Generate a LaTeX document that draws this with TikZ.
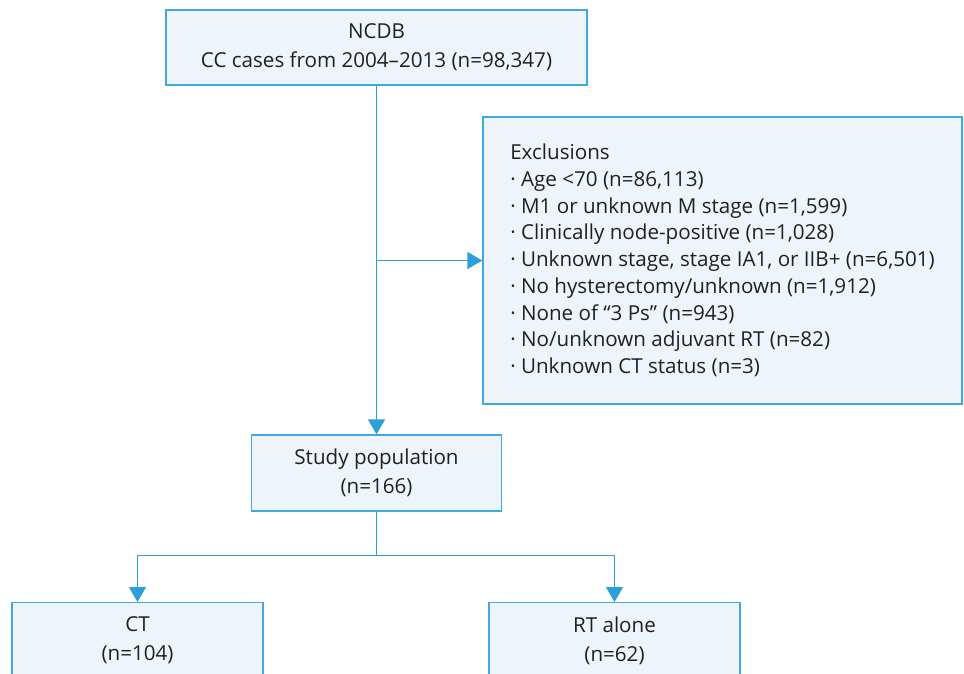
\documentclass[tikz,border=0pt]{standalone}
\usepackage{fontspec}
\setmainfont{Open Sans}
\usetikzlibrary{arrows.meta}
\definecolor{boxline}{HTML}{3FA9E0}
\definecolor{boxfill}{HTML}{EDF5FB}
\definecolor{arrowblue}{HTML}{2A9FD8}
\definecolor{textgray}{HTML}{231F20}

\begin{document}
\begin{tikzpicture}[x=1pt,y=-1pt,text=textgray,font=\fontsize{20.6}{29}\selectfont,
  flowbox/.style={draw=boxline,fill=boxfill,line width=1.3pt,align=center,inner sep=0pt},
  flowline/.style={draw=arrowblue,line width=1.3pt},
  flowarrow/.style={flowline,-{Triangle[length=15pt,width=17pt]}}]
\useasboundingbox (0,0) rectangle (964,673);
\clip (0,0) rectangle (964,673);
% Boxes
\node[flowbox,minimum width=421,minimum height=75] (ncdb) at (376.5,47.5) {NCDB\\CC cases from 2004--2013 (n=98,347)};
\node[flowbox,minimum width=479,minimum height=287,font=\fontsize{20.6}{26.75}\selectfont,align=left] (excl) at (722.5,260.5) {Exclusions\\
·\ Age <70 (n=86,113)\\
·\ M1 or unknown M stage (n=1,599)\\
·\ Clinically node-positive (n=1,028)\\
·\ Unknown stage, stage IA1, or IIB+ (n=6,501)\\
·\ No hysterectomy/unknown (n=1,912)\\
·\ None of “3 Ps” (n=943)\\
·\ No/unknown adjuvant RT (n=82)\\
·\ Unknown CT status (n=3)};
\node[flowbox,minimum width=250,minimum height=76] (study) at (376.5,473) {Study population\\(n=166)};
\node[flowbox,minimum width=251,minimum height=76,anchor=north] (ct) at (137.5,602) {CT\\(n=104)};
\node[flowbox,minimum width=251,minimum height=76,anchor=north] (rt) at (614.5,602) {RT alone\\(n=62)};
% Connectors
\coordinate (split) at (376.5,260.5);
\draw[flowarrow] (ncdb) -- (study);
\draw[flowarrow] (split) -- (excl);
\draw[flowarrow] (study.south) -- ++(0,44) -| (ct.north);
\draw[flowarrow] (study.south) -- ++(0,44) -| (rt.north);
\end{tikzpicture}
\end{document}
